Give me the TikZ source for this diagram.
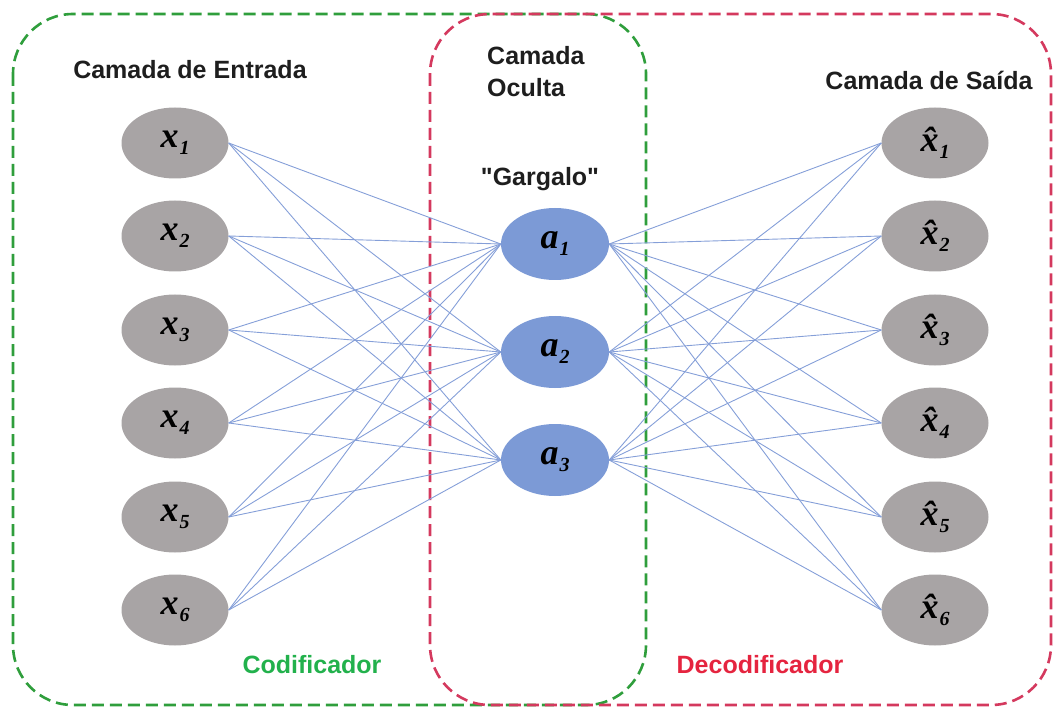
\documentclass[tikz,border=0pt]{standalone}
\usepackage{fontspec}
\setmainfont{Liberation Sans}[Ligatures=TeXOff]
\newfontfamily\tnr{Liberation Serif}
\usetikzlibrary{shapes.geometric}
\definecolor{gboxc}{HTML}{2F9E3C}
\definecolor{rboxc}{HTML}{D4395E}
\definecolor{gtext}{HTML}{22B14C}
\definecolor{rtext}{HTML}{E5243F}
\definecolor{grayn}{HTML}{A8A4A5}
\definecolor{bluen}{HTML}{7C9AD6}
\definecolor{edgec}{HTML}{859FD8}
\definecolor{titc}{HTML}{1E1E1E}
\newcommand{\nlab}[2]{{\tnr\fontsize{36}{36}\selectfont\bfseries\itshape #1\kern1pt\raisebox{-7pt}{\fontsize{20}{20}\selectfont #2}}}
\newcommand{\hlab}[1]{{\tnr\fontsize{36}{36}\selectfont\bfseries\itshape x\char"0302\kern1pt\raisebox{-7pt}{\fontsize{20}{20}\selectfont #1}}}
\tikzset{
  boxline/.style={line width=2.6pt, dash pattern=on 12pt off 6pt, rounded corners=60pt},
  inp/.style={ellipse, fill=grayn, minimum width=107pt, minimum height=71pt, inner sep=0pt},
  hid/.style={ellipse, fill=bluen, minimum width=108pt, minimum height=72pt, inner sep=0pt},
  edge/.style={draw=edgec, line width=0.9pt},
  title/.style={font=\fontsize{25}{32}\selectfont\bfseries, text=titc, inner sep=0pt}
}
\begin{document}
\begin{tikzpicture}[x=1pt,y=-1pt]
\useasboundingbox (0,0) rectangle (1054,708);
\draw[boxline, gboxc] (13,14) rectangle (646,705);
\draw[boxline, rboxc] (430,14) rectangle (1051,705);
\foreach \i/\y in {1/143,2/236,3/330,4/423,5/517,6/610}{
  \node[inp] (x\i) at (175,\y) {\nlab{x}{\i}};
  \node[inp] (y\i) at (935,\y) {\hlab{\i}};
}
\foreach \j/\y in {1/244,2/352,3/460}{
  \node[hid] (a\j) at (555,\y) {\nlab{a}{\j}};
}
\foreach \i in {1,...,6}{
  \foreach \j in {1,2,3}{
    \draw[edge] (x\i.east) -- (a\j.west);
    \draw[edge] (a\j.east) -- (y\i.west);
  }
}
\node[title] (tin) at (190,70) {Camada de Entrada};
\node[title, align=left, anchor=north west] (thid) at (487,46) {Camada\\Oculta};
\node[title] (tgar) at (540,179) {"Gargalo"};
\node[title] (tout) at (929,80) {Camada de Saída};
\node[title, text=gtext] (tcod) at (312,665) {Codificador};
\node[title, text=rtext] (tdec) at (760,665) {Decodificador};
\end{tikzpicture}
\end{document}
